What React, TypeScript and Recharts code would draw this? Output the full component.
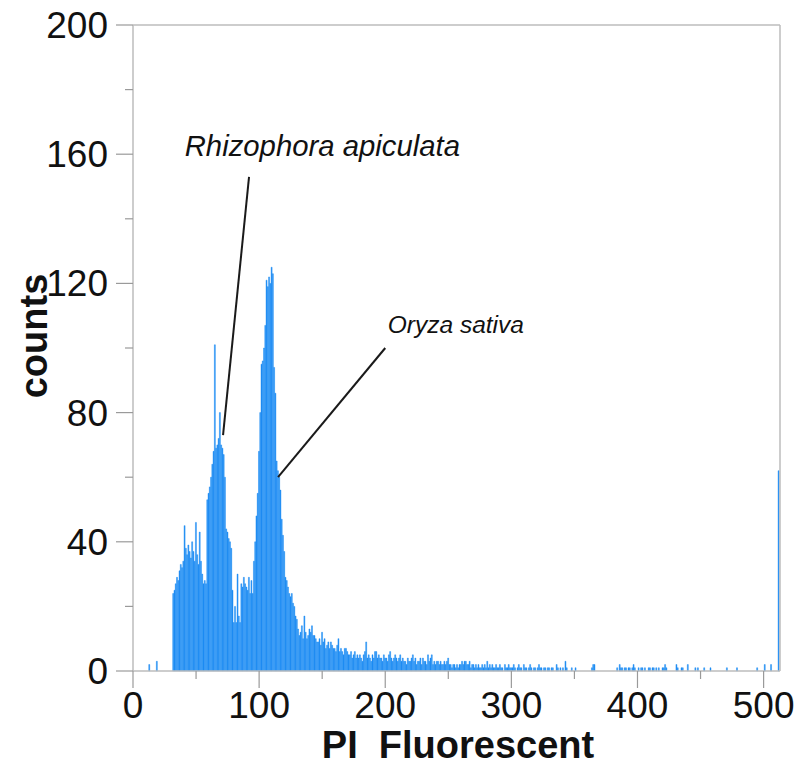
import React from 'react';
import { BarChart, Bar, XAxis, YAxis, ReferenceLine, ReferenceDot } from 'recharts';

// counts per PI channel (channel = index)
const counts = [
  0, 0, 0, 0, 0, 0, 0, 0, 0, 0,
  0, 0, 0, 2, 0, 0, 0, 0, 0, 3,
  0, 0, 0, 0, 0, 0, 0, 0, 0, 0,
  0, 0, 24, 25, 27, 29, 28, 31, 33, 32,
  34, 45, 38, 36, 39, 37, 35, 40, 37, 34,
  46, 36, 33, 43, 34, 30, 27, 28, 27, 53,
  55, 57, 60, 64, 68, 101, 69, 70, 72, 80,
  70, 69, 67, 60, 44, 43, 41, 40, 38, 25,
  15, 20, 15, 30, 17, 15, 27, 26, 29, 27,
  26, 25, 29, 24, 28, 24, 34, 40, 48, 55,
  68, 80, 95, 96, 100, 107, 121, 119, 122, 120,
  125, 123, 94, 86, 65, 62, 60, 56, 47, 42,
  37, 29, 28, 26, 24, 23, 24, 21, 20, 17,
  16, 13, 11, 12, 14, 10, 17, 12, 10, 11,
  13, 12, 14, 11, 11, 10, 9, 9, 10, 8,
  12, 9, 10, 7, 8, 9, 7, 9, 8, 7,
  7, 6, 8, 10, 6, 7, 6, 5, 7, 7,
  6, 5, 5, 6, 4, 5, 6, 4, 5, 4,
  5, 4, 3, 5, 6, 9, 4, 5, 4, 3,
  5, 4, 6, 6, 4, 5, 4, 4, 3, 5,
  4, 4, 3, 5, 6, 4, 3, 4, 5, 4,
  3, 4, 5, 3, 4, 3, 3, 2, 4, 3,
  3, 4, 5, 3, 4, 2, 3, 3, 4, 2,
  4, 3, 3, 2, 5, 3, 4, 5, 2, 3,
  2, 3, 3, 2, 3, 2, 2, 3, 2, 3,
  4, 2, 2, 1, 2, 2, 1, 2, 1, 2,
  2, 3, 2, 3, 3, 2, 2, 3, 1, 2,
  2, 1, 2, 1, 2, 1, 1, 2, 1, 2,
  1, 3, 1, 2, 1, 2, 1, 1, 2, 1,
  1, 2, 1, 1, 0, 2, 1, 1, 2, 1,
  1, 1, 2, 1, 0, 1, 2, 1, 1, 0,
  2, 1, 1, 0, 1, 2, 1, 0, 1, 1,
  0, 1, 2, 1, 1, 0, 1, 1, 0, 1,
  1, 0, 1, 1, 0, 0, 2, 1, 0, 1,
  0, 1, 0, 3, 1, 0, 0, 0, 1, 0,
  0, 1, 0, 0, 0, 0, 0, 0, 0, 0,
  0, 0, 0, 0, 1, 2, 2, 0, 0, 0,
  0, 0, 0, 0, 0, 0, 0, 0, 0, 0,
  0, 0, 0, 0, 1, 0, 2, 1, 1, 0,
  1, 1, 0, 1, 1, 0, 1, 2, 1, 0,
  0, 1, 0, 1, 1, 0, 1, 0, 0, 1,
  1, 0, 1, 1, 0, 1, 0, 1, 0, 0,
  1, 1, 2, 1, 0, 0, 0, 0, 0, 0,
  0, 2, 1, 0, 0, 1, 1, 0, 0, 0,
  2, 0, 0, 0, 0, 0, 1, 0, 1, 0,
  0, 0, 0, 1, 0, 0, 0, 0, 1, 0,
  0, 0, 0, 0, 0, 0, 0, 0, 0, 0,
  0, 1, 0, 0, 0, 0, 0, 0, 0, 1,
  0, 0, 0, 0, 0, 0, 0, 0, 0, 0,
  0, 0, 0, 0, 0, 1, 0, 0, 0, 0,
  0, 2, 0, 0, 0, 0, 2, 0, 0, 0,
  0, 0, 62,
];
const channels = counts.map((_, i) => i);

const xTicks = [0, 50, 100, 150, 200, 250, 300, 350, 400, 450, 500];
const yTicks = [0, 20, 40, 60, 80, 100, 120, 140, 160, 180, 200];
const xMax = 513;

// species labels: text anchor and leader line (data units)
const annotations = [
  { text: 'Rhizophora apiculata', tx: 41, ty: 159.5, size: 29.3, from: { x: 92, y: 153 }, to: { x: 71.4, y: 73 } },
  { text: 'Oryza sativa', tx: 202, ty: 104.6, size: 24.5, from: { x: 200, y: 100 }, to: { x: 115, y: 60 } },
];

const data = channels.map((ch, i) => ({ ch, count: counts[i] }));

const FONT = '"Liberation Sans", Arial, Helvetica, sans-serif';
const FRAME = '#bdbdbd';
const TICK = '#9a9a9a';
const BLUE = '#1e8cf3';

const XTick = (props: any) => {
  const { x, y, payload } = props;
  const major = payload.value % 100 === 0;
  return (
    <g>
      <line x1={x} x2={x} y1={y} y2={y + (major ? 17 : 8)} stroke={TICK} strokeWidth={1.2} />
      {major && (
        <text x={x} y={y + 47} textAnchor="middle" fontSize={37} fontFamily={FONT} fill="#111">
          {payload.value}
        </text>
      )}
    </g>
  );
};

const YTick = (props: any) => {
  const { x, y, payload } = props;
  const major = payload.value % 40 === 0;
  return (
    <g>
      <line x1={x - (major ? 17 : 8)} x2={x} y1={y} y2={y} stroke={TICK} strokeWidth={1.2} />
      {major && (
        <text x={x - 25} y={y + 13} textAnchor="end" fontSize={37} fontFamily={FONT} fill="#111">
          {payload.value}
        </text>
      )}
    </g>
  );
};

export default function App() {
  return (
    <div style={{ position: 'absolute', left: 0, top: 0, width: 807, height: 765, background: '#fff' }}>
      <BarChart
        width={807}
        height={765}
        data={data}
        margin={{ top: 25, right: 27, bottom: 64, left: 73 }}
        barCategoryGap={0}
        barGap={0}
      >
        <XAxis
          dataKey="ch"
          type="number"
          domain={[0, xMax]}
          ticks={xTicks}
          interval={0}
          height={30}
          tickSize={0}
          tickMargin={0}
          tick={<XTick />}
          axisLine={{ stroke: FRAME, strokeWidth: 1.5 }}
          tickLine={false}
        />
        <YAxis
          type="number"
          domain={[0, 200]}
          ticks={yTicks}
          interval={0}
          width={60}
          tickSize={0}
          tickMargin={0}
          tick={<YTick />}
          axisLine={{ stroke: FRAME, strokeWidth: 1.5 }}
          tickLine={false}
        />
        <ReferenceLine y={200} stroke={FRAME} strokeWidth={1.5} />
        <ReferenceLine x={xMax} stroke={FRAME} strokeWidth={1.5} />
        <Bar dataKey="count" fill={BLUE} stroke={BLUE} strokeWidth={0.45} isAnimationActive={false} />
        {annotations.map((a) => (
          <ReferenceLine
            key={a.text + '-line'}
            segment={[a.from, a.to]}
            stroke="#1a1a1a"
            strokeWidth={2}
          />
        ))}
        {annotations.map((a) => (
          <ReferenceDot
            key={a.text}
            x={a.tx}
            y={a.ty}
            r={0}
            fill="none"
            stroke="none"
            label={(p: any) => (
              <text
                x={p.viewBox.x}
                y={p.viewBox.y}
                fontSize={a.size}
                fontStyle="italic"
                fontFamily={FONT}
                fill="#111"
              >
                {a.text}
              </text>
            )}
          />
        ))}
      </BarChart>
      <svg width={807} height={765} style={{ position: 'absolute', left: 0, top: 0, pointerEvents: 'none' }}>
        <text
          transform="translate(47, 336) rotate(-90)"
          textAnchor="middle"
          fontSize={38}
          fontWeight="bold"
          fontFamily={FONT}
          fill="#111"
        >
          counts
        </text>
        <text
          x={458}
          y={758}
          textAnchor="middle"
          fontSize={38}
          fontWeight="bold"
          fontFamily={FONT}
          fill="#111"
          style={{ whiteSpace: 'pre' }}
        >
          {'PI  Fluorescent'}
        </text>
      </svg>
    </div>
  );
}
